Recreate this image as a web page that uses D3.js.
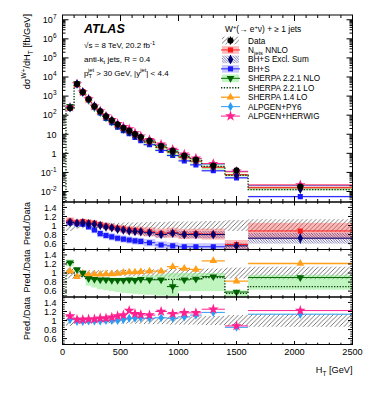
<!DOCTYPE html>
<html lang="en">
<head>
<meta charset="UTF-8">
<title>W+ jets HT</title>
<script src="https://cdn.jsdelivr.net/npm/d3@7"></script>
<style>
  body { margin: 0; background: #fff; }
  svg { display: block; font-family: "Liberation Sans", Arial, sans-serif; }
</style>
</head>
<body>
<svg id="chart" width="374" height="396"></svg>
<script>
// HT bin edges (GeV)
var edges = [30, 100, 150, 200, 250, 300, 350, 400, 450, 500, 550, 600, 650, 700, 800, 900, 1000, 1100, 1200, 1400, 1600, 2500];
// measured cross section, fb/GeV
var dataXsec = [236, 4200, 1580, 680, 290, 160, 87, 54, 33, 22, 15.5, 10.3, 7.1, 4.6, 2.5, 1.4, 0.76, 0.47, 0.23, 0.13, 0.018];
var dataErr = [0.12, 0.07, 0.06, 0.06, 0.06, 0.06, 0.06, 0.06, 0.06, 0.07, 0.07, 0.07, 0.07, 0.08, 0.08, 0.09, 0.09, 0.09, 0.1, 0.12, 0.14];

// prediction / data
var nnloRatio = [1.10, 1.07, 1.09, 1.07, 1.05, 1.02, 0.99, 0.96, 0.94, 0.92, 0.90, 0.89, 0.88, 0.86, 0.83, 0.84, 0.81, 0.82, 0.81, 0.58, 0.88];
var nnloErr = [0.08, 0.06, 0.06, 0.06, 0.07, 0.07, 0.08, 0.08, 0.08, 0.09, 0.09, 0.09, 0.1, 0.1, 0.1, 0.11, 0.11, 0.11, 0.12, 0.1, 0.18];
var exclRatio = [1.07, 1.05, 1.06, 1.04, 1.03, 1.0, 0.97, 0.95, 0.92, 0.9, 0.88, 0.87, 0.86, 0.84, 0.80, 0.83, 0.80, 0.80, 0.80, 0.55, 0.72];
var exclErr = [0.05, 0.04, 0.04, 0.04, 0.05, 0.05, 0.05, 0.05, 0.05, 0.06, 0.06, 0.06, 0.06, 0.07, 0.07, 0.07, 0.08, 0.08, 0.08, 0.06, 0.12];
var bhsRatio = [1.06, 1.04, 1.03, 0.97, 0.90, 0.82, 0.78, 0.75, 0.72, 0.70, 0.68, 0.66, 0.65, 0.62, 0.57, 0.55, 0.53, 0.53, 0.53, 0.40, 0.30];
var bhsErr = [0.06, 0.05, 0.05, 0.06, 0.07, 0.08, 0.08, 0.08, 0.08, 0.08, 0.08, 0.08, 0.08, 0.08, 0.08, 0.08, 0.08, 0.08, 0.08, 0.1, 0.1];
var nloRatio = [1.23, 1.08, 1.0, 0.88, 0.86, 0.85, 0.85, 0.84, 0.84, 0.84, 0.85, 0.84, 0.86, 0.85, 0.85, 0.70, 0.85, 0.87, 0.92, 0.58, 0.90];
var nloStat = [0.04, 0.02, 0.02, 0.02, 0.02, 0.02, 0.02, 0.02, 0.02, 0.02, 0.02, 0.02, 0.03, 0.03, 0.03, 0.15, 0.04, 0.04, 0.04, 0.05, 0.05];
var nloBandLo = [1.15, 1.02, 0.95, 0.72, 0.68, 0.64, 0.62, 0.6, 0.58, 0.56, 0.55, 0.54, 0.53, 0.52, 0.5, 0.48, 0.6, 0.6, 0.6, 0.47, 0.63];
var nloBandHi = [1.3, 1.12, 1.04, 0.92, 0.9, 0.9, 0.9, 0.9, 0.9, 0.9, 0.92, 0.92, 0.93, 0.95, 0.97, 1.0, 1.0, 1.0, 1.0, 0.62, 0.96];
var loRatio = [1.0, 0.95, 0.92, 0.88, 0.87, 0.87, 0.87, 0.87, 0.86, 0.86, 0.86, 0.86, 0.86, 0.86, 0.86, 0.86, 0.87, 0.87, 0.9, 0.55, 0.7];
var s14Ratio = [1.04, 0.92, 0.99, 0.96, 0.97, 0.97, 0.98, 0.98, 0.99, 1.01, 1.02, 1.02, 1.03, 1.04, 1.04, 1.14, 1.10, 1.08, 1.27, 0.82, 1.21];
var py6Ratio = [1.02, 0.98, 0.98, 0.99, 0.99, 0.99, 1.0, 1.0, 1.0, 1.02, 1.05, 1.05, 1.06, 1.05, 1.06, 1.05, 1.08, 1.12, 1.18, 0.85, 1.14];
var herwigRatio = [1.1, 1.02, 1.02, 1.03, 1.03, 1.05, 1.05, 1.07, 1.1, 1.12, 1.22, 1.15, 1.13, 1.12, 1.2, 1.15, 1.17, 1.17, 1.25, 0.88, 1.22];

var xTickVals = [0, 500, 1000, 1500, 2000, 2500];
var ratioTickVals = [0.6, 0.8, 1, 1.2, 1.4];
var logDecades = [-2, -1, 0, 1, 2, 3, 4, 5, 6, 7];

var col = {
  red: "#ff1a1a", redBand: "rgba(255,70,70,0.38)",
  navy: "#000070",
  blue: "#1a1aff", blueBand: "rgba(90,90,255,0.32)",
  green: "#006400", greenBand: "rgba(130,235,130,0.5)",
  lo: "#0d3b0d",
  orange: "#ff9f1a",
  cyan: "#2a9df4",
  pink: "#ff1f8f"
};

var svg = d3.select("#chart");
var left = 62.5, right = 352.5;
var x = d3.scaleLinear().domain([0, 2500]).range([left, right]);
var mainTop = 15, mainBottom = 202;
var yMain = d3.scaleLog().domain([Math.pow(10, -2.55), Math.pow(10, 7.25)]).range([mainBottom, mainTop]);

var panels = [
  {top: 202, bottom: 249.5},
  {top: 249.5, bottom: 297},
  {top: 297, bottom: 344.5}
];

var bins = edges.slice(0, -1).map(function(lo, i) {
  return {lo: lo, hi: edges[i + 1], mid: (lo + edges[i + 1]) / 2, i: i};
});

var defs = svg.append("defs");
defs.append("pattern").attr("id", "hatchData").attr("patternUnits", "userSpaceOnUse")
  .attr("width", 4.5).attr("height", 4.5)
  .append("path").attr("d", "M-1,1 L1,-1 M0,4.5 L4.5,0 M3.5,5.5 L5.5,3.5")
  .attr("stroke", "#555").attr("stroke-width", 0.8);
defs.append("pattern").attr("id", "hatchNavy").attr("patternUnits", "userSpaceOnUse")
  .attr("width", 2.6).attr("height", 2.6)
  .append("path").attr("d", "M-1,1.6 L1,3.6 M0,0 L2.6,2.6 M1.6,-1 L3.6,1")
  .attr("stroke", "#1a1a80").attr("stroke-width", 0.6);

defs.append("clipPath").attr("id", "clipMain").append("rect")
  .attr("x", left).attr("y", mainTop).attr("width", right - left).attr("height", mainBottom - mainTop);
panels.forEach(function(p, k) {
  p.y = d3.scaleLinear().domain([0.47, 1.52]).range([p.bottom, p.top]);
  defs.append("clipPath").attr("id", "clipR" + k).append("rect")
    .attr("x", left).attr("y", p.top).attr("width", right - left).attr("height", p.bottom - p.top);
});

function bandRects(g, ys, lows, highs, fill) {
  g.append("g").selectAll("rect").data(bins).join("rect")
    .attr("x", function(d) { return x(d.lo); })
    .attr("width", function(d) { return x(d.hi) - x(d.lo); })
    .attr("y", function(d) { return ys(highs[d.i]); })
    .attr("height", function(d) { return Math.max(0, ys(lows[d.i]) - ys(highs[d.i])); })
    .attr("fill", fill);
}

function binLines(g, ys, vals, color, w) {
  g.append("g").selectAll("line").data(bins).join("line")
    .attr("x1", function(d) { return x(d.lo); })
    .attr("x2", function(d) { return x(d.hi); })
    .attr("y1", function(d) { return ys(vals[d.i]); })
    .attr("y2", function(d) { return ys(vals[d.i]); })
    .attr("stroke", color).attr("stroke-width", w || 1);
}

function errBars(g, ys, vals, lows, highs, color) {
  g.append("g").selectAll("line").data(bins).join("line")
    .attr("x1", function(d) { return x(d.mid); })
    .attr("x2", function(d) { return x(d.mid); })
    .attr("y1", function(d) { return ys(lows[d.i]); })
    .attr("y2", function(d) { return ys(highs[d.i]); })
    .attr("stroke", color).attr("stroke-width", 1);
}

function markers(g, ys, vals, type, size, color, rot) {
  g.append("g").selectAll("path").data(bins).join("path")
    .attr("d", d3.symbol().type(type).size(size))
    .attr("transform", function(d) {
      return "translate(" + x(d.mid) + "," + ys(vals[d.i]) + ")" + (rot ? " rotate(" + rot + ")" : "");
    })
    .attr("fill", color);
}

function stepPath(g, ys, vals, yStart) {
  var pts = [[x(edges[0]), yStart]];
  bins.forEach(function(d) {
    pts.push([x(d.lo), ys(vals[d.i])]);
    pts.push([x(d.hi), ys(vals[d.i])]);
  });
  g.append("path").attr("d", d3.line()(pts)).attr("fill", "none")
    .attr("stroke", col.lo).attr("stroke-width", 1.4).attr("stroke-dasharray", "1.3,1.5");
}

function scaled(r) { return dataXsec.map(function(v, i) { return v * r[i]; }); }
function scaledBy(r, f) { return dataXsec.map(function(v, i) { return v * r[i] * f(i); }); }

// ---------- main panel ----------
var gm = svg.append("g").attr("clip-path", "url(#clipMain)");
var mNnlo = scaled(nnloRatio), mExcl = scaled(exclRatio), mBhs = scaled(bhsRatio),
    mNlo = scaled(nloRatio), mLo = scaled(loRatio), mS14 = scaled(s14Ratio),
    mPy6 = scaled(py6Ratio), mHer = scaled(herwigRatio);

bandRects(gm, yMain, scaledBy(bhsRatio, function(i) { return 1 - bhsErr[i]; }), scaledBy(bhsRatio, function(i) { return 1 + bhsErr[i]; }), col.blueBand);
bandRects(gm, yMain, scaledBy(nnloRatio, function(i) { return 1 - nnloErr[i]; }), scaledBy(nnloRatio, function(i) { return 1 + nnloErr[i]; }), col.redBand);
bandRects(gm, yMain, dataXsec.map(function(v, i) { return v * nloBandLo[i]; }), dataXsec.map(function(v, i) { return v * nloBandHi[i]; }), col.greenBand);
binLines(gm, yMain, mBhs, col.blue);
binLines(gm, yMain, mNnlo, col.red);
binLines(gm, yMain, mS14, col.orange);
binLines(gm, yMain, mPy6, col.cyan);
binLines(gm, yMain, mHer, col.pink);
stepPath(gm, yMain, mLo, mainBottom + 2);
markers(gm, yMain, mBhs, d3.symbolSquare, 26, col.blue);
markers(gm, yMain, mNnlo, d3.symbolSquare, 26, col.red);
markers(gm, yMain, mS14, d3.symbolTriangle, 26, col.orange);
markers(gm, yMain, mNlo, d3.symbolTriangle, 26, col.green, 180);
markers(gm, yMain, mPy6, d3.symbolDiamond, 24, col.cyan);
markers(gm, yMain, mHer, d3.symbolStar, 34, col.pink);
markers(gm, yMain, mExcl, d3.symbolDiamond, 24, col.navy);
errBars(gm, yMain, dataXsec, dataXsec.map(function(v, i) { return v * (1 - dataErr[i]); }), dataXsec.map(function(v, i) { return v * (1 + dataErr[i]); }), "#000");
markers(gm, yMain, dataXsec, d3.symbolCircle, 30, "#000");

// ---------- ratio panels ----------
var ones = bins.map(function() { return 1; });
function lowOf(r, e) { return r.map(function(v, i) { return v - e[i]; }); }
function highOf(r, e) { return r.map(function(v, i) { return v + e[i]; }); }
var smallErr = bins.map(function() { return 0.02; });

panels.forEach(function(p, k) {
  var g = svg.append("g").attr("clip-path", "url(#clipR" + k + ")");
  var ys = p.y;
  if (k === 0) {
    bandRects(g, ys, lowOf(ones, dataErr), highOf(ones, dataErr), "url(#hatchData)");
    bandRects(g, ys, lowOf(bhsRatio, bhsErr), highOf(bhsRatio, bhsErr), col.blueBand);
    bandRects(g, ys, lowOf(nnloRatio, nnloErr), highOf(nnloRatio, nnloErr), col.redBand);
    bandRects(g, ys, lowOf(exclRatio, exclErr), highOf(exclRatio, exclErr), "url(#hatchNavy)");
    binLines(g, ys, bhsRatio, col.blue);
    binLines(g, ys, nnloRatio, col.red);
    binLines(g, ys, exclRatio, col.navy);
    errBars(g, ys, bhsRatio, lowOf(bhsRatio, smallErr), highOf(bhsRatio, smallErr), col.blue);
    errBars(g, ys, exclRatio, lowOf(exclRatio, exclErr), highOf(exclRatio, exclErr), col.navy);
    markers(g, ys, bhsRatio, d3.symbolSquare, 26, col.blue);
    markers(g, ys, nnloRatio, d3.symbolSquare, 26, col.red);
    markers(g, ys, exclRatio, d3.symbolDiamond, 26, col.navy);
  } else if (k === 1) {
    bandRects(g, ys, lowOf(ones, dataErr), highOf(ones, dataErr), "url(#hatchData)");
    bandRects(g, ys, nloBandLo, nloBandHi, col.greenBand);
    stepPath(g, ys, loRatio, p.bottom + 2);
    binLines(g, ys, s14Ratio, col.orange, 1.3);
    binLines(g, ys, nloRatio, col.green);
    errBars(g, ys, nloRatio, lowOf(nloRatio, nloStat), highOf(nloRatio, nloStat), col.green);
    markers(g, ys, s14Ratio, d3.symbolTriangle, 26, col.orange);
    markers(g, ys, nloRatio, d3.symbolTriangle, 26, col.green, 180);
  } else {
    bandRects(g, ys, lowOf(ones, dataErr), highOf(ones, dataErr), "url(#hatchData)");
    binLines(g, ys, py6Ratio, col.cyan);
    binLines(g, ys, herwigRatio, col.pink);
    markers(g, ys, py6Ratio, d3.symbolDiamond, 24, col.cyan);
    markers(g, ys, herwigRatio, d3.symbolStar, 36, col.pink);
  }
});

// ---------- frames and ticks ----------
var axes = svg.append("g").attr("stroke", "#000").attr("stroke-width", 1).attr("fill", "none");
function frame(top, bottom) {
  axes.append("rect").attr("x", left).attr("y", top).attr("width", right - left).attr("height", bottom - top);
}
function xTickMarks(top, bottom, maj, mn) {
  d3.range(0, 2501, 100).forEach(function(v) {
    var len = v % 500 === 0 ? maj : mn;
    axes.append("line").attr("x1", x(v)).attr("x2", x(v)).attr("y1", bottom).attr("y2", bottom - len);
    axes.append("line").attr("x1", x(v)).attr("x2", x(v)).attr("y1", top).attr("y2", top + len);
  });
}
function yTickMark(yv, len) {
  axes.append("line").attr("x1", left).attr("x2", left + len).attr("y1", yv).attr("y2", yv);
  axes.append("line").attr("x1", right).attr("x2", right - len).attr("y1", yv).attr("y2", yv);
}

frame(mainTop, mainBottom);
xTickMarks(mainTop, mainBottom, 6, 3);
d3.range(-3, 8).forEach(function(e) {
  d3.range(1, 10).forEach(function(m) {
    var v = m * Math.pow(10, e);
    if (v >= yMain.domain()[0] && v <= yMain.domain()[1]) yTickMark(yMain(v), m === 1 ? 6 : 3);
  });
});

panels.forEach(function(p) {
  frame(p.top, p.bottom);
  xTickMarks(p.top, p.bottom, 3.5, 1.8);
  d3.range(0.5, 1.51, 0.05).forEach(function(v) {
    var major = ratioTickVals.some(function(t) { return Math.abs(t - v) < 1e-6; });
    yTickMark(p.y(v), major ? 4.5 : 2.2);
  });
});

// ---------- tick labels ----------
var labels = svg.append("g").attr("fill", "#000").attr("font-size", 9);
logDecades.forEach(function(e) {
  var t = labels.append("text").attr("x", 56.5).attr("y", yMain(Math.pow(10, e)) + 3.3).attr("text-anchor", "end");
  if (e === 0) t.text("1");
  else if (e === 1) t.text("10");
  else {
    t.append("tspan").text("10");
    t.append("tspan").attr("dy", -4).attr("font-size", 6.5).text(e);
  }
});
panels.forEach(function(p) {
  ratioTickVals.forEach(function(v) {
    labels.append("text").attr("x", 56.5).attr("y", p.y(v) + 3.2).attr("text-anchor", "end").text(v);
  });
});
xTickVals.forEach(function(v) {
  labels.append("text").attr("x", x(v)).attr("y", 355).attr("text-anchor", "middle").attr("font-size", 9.2).text(v);
});

// axis titles
var xt = labels.append("text").attr("x", right).attr("y", 373).attr("text-anchor", "end").attr("font-size", 9.2);
xt.append("tspan").text("H");
xt.append("tspan").attr("dy", 2.5).attr("font-size", 6.5).text("T");
xt.append("tspan").attr("dy", -2.5).text(" [GeV]");

var yt = labels.append("text").attr("transform", "translate(30," + (mainTop - 1) + ") rotate(-90)")
  .attr("text-anchor", "end").attr("font-size", 9.2);
yt.append("tspan").text("d\u03c3");
yt.append("tspan").attr("dy", -4).attr("font-size", 6.5).text("W+");
yt.append("tspan").attr("dy", 4).text("/dH");
yt.append("tspan").attr("dy", 2.5).attr("font-size", 6.5).text("T");
yt.append("tspan").attr("dy", -2.5).text(" [fb/GeV]");

panels.forEach(function(p) {
  labels.append("text").attr("transform", "translate(30," + p.top + ") rotate(-90)")
    .attr("text-anchor", "end").attr("font-size", 9).text("Pred./Data");
});

// ---------- ATLAS label ----------
var info = svg.append("g").attr("fill", "#000");
info.append("text").attr("x", 84).attr("y", 32.5).attr("font-size", 12.5)
  .attr("font-weight", "bold").attr("font-style", "italic").text("ATLAS");
var l1 = info.append("text").attr("x", 84).attr("y", 48).attr("font-size", 8);
l1.append("tspan").text("\u221as = 8 TeV, 20.2 fb");
l1.append("tspan").attr("dy", -3.5).attr("font-size", 5.8).text("-1");
var l2 = info.append("text").attr("x", 84).attr("y", 62).attr("font-size", 8);
l2.append("tspan").text("anti-k");
l2.append("tspan").attr("dy", 2).attr("font-size", 5.8).text("t");
l2.append("tspan").attr("dy", -2).text(" jets, R = 0.4");
var l3 = info.append("text").attr("x", 84).attr("y", 75.5).attr("font-size", 8);
l3.append("tspan").text("p");
l3.append("tspan").attr("dy", 2).attr("font-size", 5.8).text("T");
l3.append("tspan").attr("dx", -4).attr("dy", -6).attr("font-size", 5.8).text("jet");
l3.append("tspan").attr("dy", 4).text(" > 30 GeV, |y");
l3.append("tspan").attr("dy", -4).attr("font-size", 5.8).text("jet");
l3.append("tspan").attr("dy", 4).text("| < 4.4");

// ---------- legend ----------
var leg = svg.append("g");
var lt = leg.append("text").attr("x", 225).attr("y", 32).attr("font-size", 8.4);
lt.append("tspan").text("W");
lt.append("tspan").attr("dy", -3.5).attr("font-size", 5.8).text("+");
lt.append("tspan").attr("dy", 3.5).text("(\u2192 e");
lt.append("tspan").attr("dy", -3.5).attr("font-size", 5.8).text("+");
lt.append("tspan").attr("dy", 3.5).text("\u03bd) + \u2265 1 jets");

var legendNames = ["Data", "N_jets NNLO", "BH+S Excl. Sum", "BH+S", "SHERPA 2.2.1 NLO", "SHERPA 2.2.1 LO", "SHERPA 1.4 LO", "ALPGEN+PY6", "ALPGEN+HERWIG"];
var lx0 = 221, lx1 = 240, lxm = 230.5, ltx = 248;
legendNames.forEach(function(name, k) {
  var cy = 40.5 + k * 9.45;
  var row = leg.append("g");
  function box(fill) {
    row.append("rect").attr("x", lx0 + 1).attr("y", cy - 3.8).attr("width", lx1 - lx0 - 2).attr("height", 7.6).attr("fill", fill);
  }
  function hline(c, w) {
    row.append("line").attr("x1", lx0).attr("x2", lx1).attr("y1", cy).attr("y2", cy).attr("stroke", c).attr("stroke-width", w || 1);
  }
  function mark(type, size, c, rot) {
    row.append("path").attr("d", d3.symbol().type(type).size(size))
      .attr("transform", "translate(" + lxm + "," + cy + ")" + (rot ? " rotate(" + rot + ")" : "")).attr("fill", c);
  }
  function vline(c) {
    row.append("line").attr("x1", lxm).attr("x2", lxm).attr("y1", cy - 4).attr("y2", cy + 4).attr("stroke", c);
  }
  if (k === 0) { box("url(#hatchData)"); vline("#000"); mark(d3.symbolCircle, 30, "#000"); }
  if (k === 1) { box(col.redBand); hline(col.red); mark(d3.symbolSquare, 26, col.red); }
  if (k === 2) { box("url(#hatchNavy)"); vline(col.navy); mark(d3.symbolDiamond, 26, col.navy); }
  if (k === 3) { box(col.blueBand); hline(col.blue); mark(d3.symbolSquare, 26, col.blue); }
  if (k === 4) { box(col.greenBand); hline(col.green); mark(d3.symbolTriangle, 26, col.green, 180); }
  if (k === 5) {
    row.append("line").attr("x1", lx0).attr("x2", lx1).attr("y1", cy).attr("y2", cy)
      .attr("stroke", col.lo).attr("stroke-width", 1.4).attr("stroke-dasharray", "1.3,1.5");
  }
  if (k === 6) { hline(col.orange, 1.3); mark(d3.symbolTriangle, 26, col.orange); }
  if (k === 7) { hline(col.cyan); mark(d3.symbolDiamond, 24, col.cyan); }
  if (k === 8) { hline(col.pink); mark(d3.symbolStar, 36, col.pink); }

  var t = row.append("text").attr("x", ltx).attr("y", cy + 3).attr("font-size", 8.2);
  if (name.indexOf("N_jets") === 0) {
    t.append("tspan").text("N");
    t.append("tspan").attr("dy", 2).attr("font-size", 5.8).text("jets");
    t.append("tspan").attr("dy", -2).text(" NNLO");
  } else {
    t.text(name);
  }
});
</script>
</body>
</html>
